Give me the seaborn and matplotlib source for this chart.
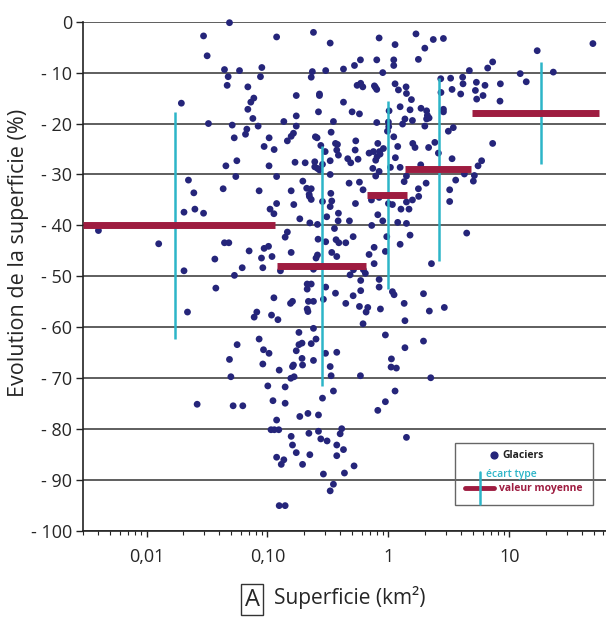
import numpy as np
import pandas as pd
import matplotlib
matplotlib.use("Agg")
import matplotlib.pyplot as plt
import seaborn as sns
from matplotlib.patches import Rectangle
from matplotlib.ticker import FixedLocator, LogLocator, NullFormatter

# ============= données =============
# superficie des glaciers (km2) et évolution de la superficie (%)
area = [
    0.0485, 0.0296, 0.0317, 0.119, 0.240, 0.0441, 0.0587, 0.0898, 0.0473, 0.0875,
    0.0464, 0.0688, 0.235, 0.230, 0.303, 0.173, 0.269, 0.269, 0.0771, 0.0728,
    0.0194, 0.0688, 0.264, 0.0757, 0.173, 0.0325, 0.0511, 0.0837, 0.1365, 0.173,
    0.0675, 0.0658, 0.0531, 0.1032, 0.164, 0.157, 0.146, 0.249, 0.257, 0.0938,
    0.1135, 0.276, 0.300, 0.0558, 0.0453, 0.103, 0.169, 0.205, 0.246, 0.246,
    0.259, 0.269, 0.285, 0.119, 0.0547, 0.0222, 0.196, 0.211, 0.230, 0.222,
    0.230, 0.221, 0.0430, 0.0853, 0.157, 0.0246, 0.285, 0.119, 0.165, 0.0204,
    0.0251, 0.0296, 0.105, 0.113, 0.309, 0.185, 0.224, 0.259, 0.0040, 0.146,
    0.140, 0.0126, 0.0441, 0.0479, 0.262, 0.303, 0.102, 0.0938, 0.157, 0.0705,
    0.0367, 0.0892, 0.109, 0.259, 0.252,
    0.0204, 0.0618, 0.0915, 0.128, 0.0533, 0.240, 0.256, 0.0374, 0.213, 0.230,
    0.213, 0.303, 0.113, 0.155, 0.161, 0.218, 0.240, 0.290, 0.213, 0.216,
    0.0218, 0.0816, 0.0776, 0.108, 0.122, 0.182, 0.240, 0.0853, 0.0561, 0.182,
    0.193, 0.230, 0.252, 0.0927, 0.103, 0.173, 0.302, 0.0485, 0.193, 0.240,
    0.0915, 0.161, 0.164, 0.195, 0.125, 0.0498, 0.156, 0.166, 0.1006, 0.140,
    0.0262, 0.0520, 0.0625, 0.111, 0.140, 0.285, 0.119, 0.185, 0.216, 0.264,
    0.107, 0.114, 0.124, 0.220, 0.264, 0.276, 0.311, 0.157, 0.161, 0.173,
    0.224, 0.119, 0.130, 0.1365, 0.195, 0.290, 0.125, 0.140,
    0.330, 0.838, 1.135, 1.69, 2.35, 2.85, 2.00, 17.0, 49.1, 0.425,
    0.524, 0.587, 0.801, 1.107, 1.107, 0.898, 1.77, 7.28, 6.62, 4.67,
    12.3, 13.8, 23.1, 0.551, 0.614, 0.590, 0.766, 0.801, 0.781, 1.135,
    1.40, 1.21, 1.41, 1.55, 2.71, 3.27, 4.11, 2.72, 3.36, 4.14,
    3.96, 5.34, 6.29, 8.43, 5.24, 6.06, 5.37, 8.37, 0.425, 0.501,
    0.576, 1.013, 1.25, 1.51, 1.86, 2.07, 2.10, 2.17, 2.07, 2.85,
    2.85, 0.351, 0.801, 1.00, 1.006, 0.982, 1.107, 1.31, 1.37, 1.58,
    2.00, 3.44, 3.13, 0.336, 0.365, 0.379, 0.374, 0.386, 0.537, 0.531,
    0.461, 0.488, 0.561, 0.692, 0.752, 0.817, 0.806, 0.785, 0.853, 0.909,
    0.843, 1.194, 1.142, 1.039, 1.25, 0.838, 0.743, 1.59, 1.66, 2.15,
    2.42, 2.59, 7.28, 3.36, 5.90, 5.51, 5.14, 5.04, 1.85, 1.90,
    3.60, 4.25, 0.330, 0.330, 0.785, 1.41, 1.35, 2.05, 0.473, 0.576,
    0.617, 0.334, 0.340, 0.330, 0.534, 0.724, 0.838, 1.00, 1.079, 1.41,
    1.58, 1.78, 1.77, 3.21, 3.21, 1.27, 1.48, 0.817, 0.386, 0.384,
    0.476, 0.898, 1.194, 1.41, 0.728, 0.358, 4.44, 0.511, 0.369, 0.389,
    0.444, 0.969, 1.51, 1.25, 0.762, 0.692, 0.944, 0.340, 0.374,
    0.762, 2.27, 0.482, 0.514, 0.621, 0.645, 0.590, 0.838, 0.365, 0.511,
    0.590, 0.838, 1.079, 1.114, 1.95, 0.444, 0.576, 0.654, 0.675, 0.859,
    1.35, 2.18, 2.90, 0.617, 1.37, 0.944, 1.95, 1.37, 0.374, 1.059,
    1.052, 1.164, 0.330, 0.336, 0.587, 2.24, 0.351, 1.135, 0.944, 0.817,
    0.411, 0.399, 1.41, 0.374, 0.425, 0.374, 0.520, 0.433, 0.351, 0.330,
]
evolution = [
    -0.2, -2.8, -6.7, -3.0, -2.1, -9.4, -9.6, -9.0, -10.8, -10.8,
    -12.5, -12.8, -9.8, -10.9, -9.6, -14.5, -14.2, -14.5, -15.0, -15.8,
    -16.0, -17.2, -17.7, -19.0, -18.5, -20.0, -20.3, -20.5, -19.6, -20.5,
    -21.1, -22.1, -22.8, -22.8, -21.9, -22.5, -23.4, -22.6, -22.8, -24.5,
    -25.1, -24.3, -25.5, -27.3, -28.3, -28.3, -27.6, -27.7, -27.5, -28.5,
    -28.8, -29.1, -28.0, -30.4, -30.4, -31.1, -31.3, -32.7, -32.8, -34.3,
    -34.9, -33.9, -32.8, -33.2, -33.2, -33.6, -35.3, -35.7, -35.9, -37.4,
    -36.8, -37.6, -36.8, -37.7, -38.3, -38.7, -39.5, -39.8, -41.0, -41.3,
    -42.3, -43.6, -43.4, -43.4, -42.7, -43.2, -44.1, -44.5, -45.3, -45.0,
    -46.6, -46.4, -46.1, -45.8, -46.4,
    -48.9, -48.3, -48.3, -48.9, -49.8, -48.6, -48.1, -52.3, -51.5, -51.5,
    -52.5, -52.1, -54.2, -55.3, -54.9, -54.9, -54.9, -54.5, -56.4, -56.9,
    -57.0, -57.0, -58.0, -57.6, -58.5, -61.0, -60.2, -62.3, -63.4, -63.4,
    -63.1, -63.2, -62.3, -64.4, -65.1, -64.6, -65.1, -66.3, -66.1, -66.5,
    -67.2, -67.7, -67.4, -67.4, -68.4, -69.7, -70.0, -69.7, -71.5, -71.7,
    -75.1, -75.4, -75.4, -74.4, -74.9, -73.9, -78.2, -77.5, -76.9, -77.2,
    -80.1, -80.1, -80.1, -80.8, -80.4, -81.9, -82.3, -81.4, -83.1, -84.6,
    -85.0, -85.5, -86.9, -86.0, -86.9, -88.8, -95.0, -95.0,
    -4.2, -3.2, -4.5, -2.4, -3.5, -3.3, -5.2, -5.7, -4.3, -9.3,
    -8.6, -7.5, -7.5, -7.5, -8.6, -10.0, -7.4, -7.9, -9.1, -9.6,
    -10.2, -11.8, -9.9, -12.5, -12.8, -12.1, -12.6, -13.3, -12.9, -12.2,
    -12.8, -13.4, -14.1, -15.3, -11.2, -11.1, -10.9, -13.9, -13.3, -12.2,
    -14.2, -11.9, -12.5, -12.2, -13.5, -14.5, -15.2, -15.6, -15.8, -17.7,
    -18.1, -17.5, -16.7, -17.3, -17.0, -17.5, -18.4, -18.9, -19.1, -17.2,
    -17.7, -19.6, -19.8, -19.7, -20.6, -21.5, -22.6, -20.1, -19.1, -19.4,
    -20.5, -20.8, -21.5, -21.7, -23.9, -24.1, -25.2, -26.2, -23.4, -25.2,
    -26.9, -27.7, -27.0, -25.8, -25.5, -23.9, -26.5, -27.2, -26.0, -24.9,
    -25.5, -24.5, -26.7, -28.6, -28.6, -29.4, -28.8, -23.9, -24.7, -24.7,
    -23.7, -25.8, -23.9, -26.9, -27.3, -28.3, -30.2, -31.3, -28.1, -28.9,
    -31.1, -29.9, -27.3, -30.0, -30.3, -30.3, -31.4, -31.7, -31.7, -31.5,
    -33.0, -33.7, -35.2, -36.3, -35.7, -35.0, -34.5, -35.7, -35.9, -35.4,
    -35.0, -34.3, -32.8, -33.0, -35.3, -36.8, -36.8, -37.9, -37.6, -39.1,
    -39.1, -39.1, -39.4, -39.6, -40.0, -40.6, -41.5, -42.2, -42.8, -43.4,
    -43.4, -42.2, -41.9, -43.7, -44.3, -45.7, -45.1, -45.3, -46.1,
    -47.5, -47.5, -49.7, -48.7, -48.7, -49.4, -50.8, -50.6, -53.3, -53.8,
    -52.8, -52.1, -53.0, -53.6, -53.4, -55.3, -55.9, -57.0, -56.1, -56.4,
    -55.3, -56.8, -56.1, -59.3, -58.7, -61.5, -62.7, -64.0, -64.9, -66.2,
    -67.8, -68.0, -67.7, -69.5, -69.5, -69.9, -72.5, -72.5, -74.6, -76.3,
    -79.9, -80.9, -81.6, -83.1, -84.0, -85.2, -87.2, -88.6, -90.8, -92.1,
]

# classes de superficie : bornes, valeur moyenne, écart type
class_lo = [0.003, 0.12, 0.67, 1.37, 4.9]
class_hi = [0.116, 0.65, 1.43, 4.8, 55]
class_mid = [0.0173, 0.283, 1.0, 2.6, 18.2]
class_mean = [-40.0, -48.0, -34.0, -29.0, -18.0]
class_std = [22.3, 23.5, 18.4, 18.0, 10.0]

xticks = [0.01, 0.1, 1, 10]
xticklabels = ["0,01", "0,10", "1", "10"]
yticks = [0, -10, -20, -30, -40, -50, -60, -70, -80, -90, -100]
yticklabels = ["0", "- 10", "- 20", "- 30", "- 40", "- 50", "- 60", "- 70", "- 80", "- 90", "- 100"]

df = pd.DataFrame({"superficie": area, "evolution": evolution})
classes = pd.DataFrame({"lo": class_lo, "hi": class_hi, "mid": class_mid,
                        "moy": class_mean, "std": class_std})

# ============= figure =============
sns.set_theme(style="white")
plt.rcParams["font.family"] = ["Open Sans", "DejaVu Sans"]

navy = "#25257a"
crimson = "#9e1c40"
cyan = "#2db5c8"

fig = plt.figure(figsize=(6.06, 6.19), dpi=100)
ax = fig.add_axes([0.1375, 0.142, 0.8625, 0.823])

# lignes horizontales de la grille
for yv in yticks:
    ax.axhline(yv, color="#333333", lw=1.1, zorder=1)

sns.scatterplot(data=df, x="superficie", y="evolution", color=navy, s=24,
                edgecolor="none", ax=ax, zorder=3, clip_on=False)

# écart type puis valeur moyenne
ax.vlines(classes["mid"], classes["moy"] - classes["std"], classes["moy"] + classes["std"],
          color=cyan, lw=1.8, zorder=4)
ax.hlines(classes["moy"], classes["lo"], classes["hi"], color=crimson, lw=5, zorder=5)

ax.set_xscale("log")
ax.set_xlim(0.003, 63)
ax.set_ylim(-100, 0)

ax.xaxis.set_major_locator(FixedLocator(xticks))
ax.set_xticklabels(xticklabels)
ax.xaxis.set_minor_locator(LogLocator(base=10, subs=np.arange(2, 10)))
ax.xaxis.set_minor_formatter(NullFormatter())
ax.set_yticks(yticks)
ax.set_yticklabels(yticklabels)

ax.tick_params(axis="x", which="major", direction="out", length=4, width=1,
               color="#222222", pad=8, labelsize=13, bottom=True)
ax.tick_params(axis="x", which="minor", direction="out", length=3, width=0.8,
               color="#222222", bottom=True)
ax.tick_params(axis="y", direction="out", length=5, width=1, color="#222222",
               pad=3, labelsize=13, left=True)

for s in ["top", "right"]:
    ax.spines[s].set_visible(False)
for s in ["left", "bottom"]:
    ax.spines[s].set_color("#222222")
    ax.spines[s].set_linewidth(1.2)

ax.set_xlabel("")
ax.set_ylabel("")

# titres des axes
fig.text(0.030, 0.592, "Evolution de la superficie (%)", rotation=90,
         ha="center", va="center", fontsize=15.5)
fig.text(0.416, 0.031, "A", ha="center", va="center", fontsize=17,
         bbox=dict(boxstyle="square,pad=0.15", fc="white", ec="#333333", lw=1))
fig.text(0.452, 0.034, "Superficie (km²)", ha="left", va="center", fontsize=15)

# légende dessinée à la main
ax.add_patch(Rectangle((0.711, 0.051), 0.264, 0.122, transform=ax.transAxes,
                       fill=False, ec="#666666", lw=1, zorder=6))
ax.scatter([0.786], [0.149], s=24, color=navy, transform=ax.transAxes, zorder=7)
ax.text(0.802, 0.149, "Glaciers", transform=ax.transAxes, fontsize=7.5,
        fontweight="bold", color="#222222", va="center", zorder=7)
ax.plot([0.759, 0.759], [0.053, 0.116], color=cyan, lw=1.8,
        transform=ax.transAxes, zorder=7)
ax.text(0.770, 0.112, "écart type", transform=ax.transAxes, fontsize=7.5,
        fontweight="semibold", color=cyan, va="center", zorder=7)
ax.plot([0.731, 0.786], [0.084, 0.084], color=crimson, lw=3.5,
        transform=ax.transAxes, zorder=6)
ax.text(0.796, 0.084, "valeur moyenne", transform=ax.transAxes, fontsize=7.5,
        fontweight="bold", color=crimson, va="center", zorder=7)

plt.savefig("out.png", dpi=100)
plt.close()
